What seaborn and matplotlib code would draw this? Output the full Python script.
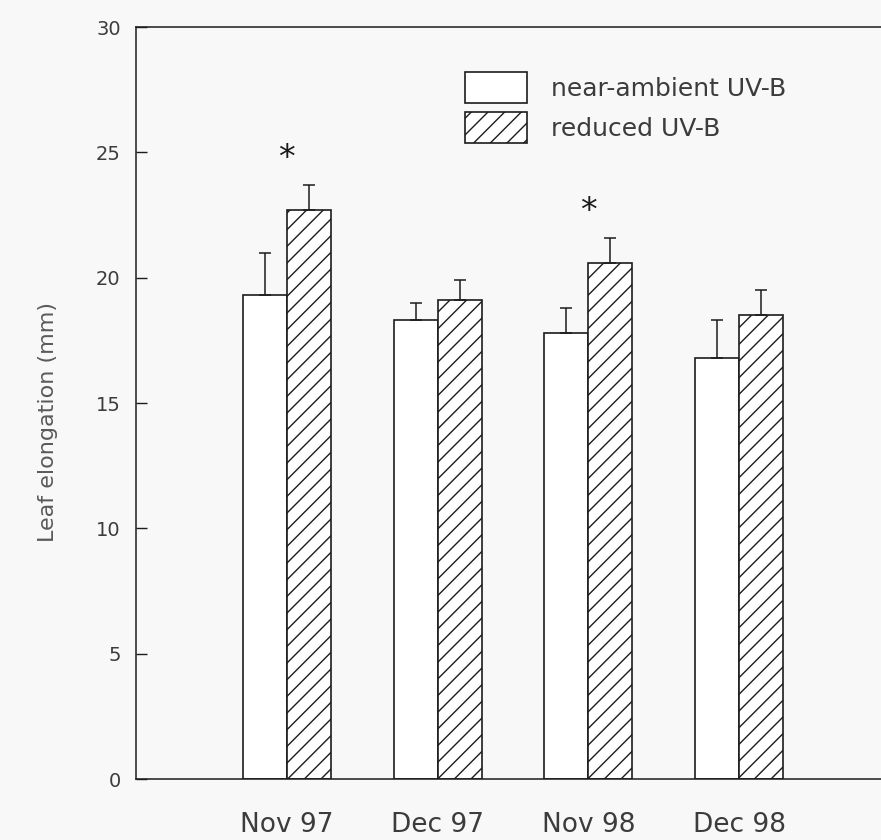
import matplotlib
matplotlib.use("Agg")
import matplotlib.pyplot as plt
import seaborn as sns
import pandas as pd

# Leaf elongation per sampling month under two UV-B treatments
months = ["Nov 97", "Dec 97", "Nov 98", "Dec 98"]
treatments = ["near-ambient UV-B", "reduced UV-B"]
near_ambient = [19.3, 18.3, 17.8, 16.8]
near_ambient_se = [1.7, 0.7, 1.0, 1.5]
reduced = [22.7, 19.1, 20.6, 18.5]
reduced_se = [1.0, 0.8, 1.0, 1.0]
# months with a significant treatment difference, and where the mark sits
signif_months = ["Nov 97", "Nov 98"]
signif_y = [24.75, 22.65]
y_ticks = [0, 5, 10, 15, 20, 25, 30]

df = pd.DataFrame({
    "month": months * 2,
    "treatment": [treatments[0]] * 4 + [treatments[1]] * 4,
    "value": near_ambient + reduced,
    "se": near_ambient_se + reduced_se,
})

sns.set_theme(style="white")
line_col = "#1c1c1c"
text_col = "#3c3c3c"
plt.rcParams["font.family"] = ["DejaVu Sans"]
plt.rcParams["hatch.color"] = line_col
plt.rcParams["hatch.linewidth"] = 1.0

fig = plt.figure(figsize=(8.81, 8.40), dpi=100, facecolor="#f8f8f8")
ax = fig.add_axes([0.1544, 0.0726, 0.8456, 0.8952])
ax.set_facecolor("#f8f8f8")

sns.barplot(data=df, x="month", y="value", hue="treatment",
            order=months, hue_order=treatments,
            palette=["white", "white"], edgecolor=line_col, linewidth=1.2,
            width=0.584, errorbar=None, ax=ax)

for bar in ax.containers[1]:
    bar.set_hatch("//")

# one-sided standard-error bars on top of each bar
for cont, errs in zip(ax.containers, [near_ambient_se, reduced_se]):
    xs = [b.get_x() + b.get_width() / 2 for b in cont]
    hs = [b.get_height() for b in cont]
    ax.errorbar(xs, hs, yerr=[[0] * len(errs), errs], fmt="none",
                ecolor=line_col, elinewidth=1.1, capsize=4, capthick=1.1)

for m, yv in zip(signif_months, signif_y):
    ax.text(months.index(m), yv, "*", ha="center", va="center",
            fontsize=24, color=line_col)

ax.set_ylim(0, 30)
ax.set_xlim(-1.0, 3.94)
ax.set_yticks(y_ticks)
ax.set_yticklabels([str(t) for t in y_ticks])
ax.tick_params(axis="y", direction="in", length=8, width=1.0, color=line_col,
               left=True, pad=11, labelsize=14, labelcolor=text_col)
ax.tick_params(axis="x", length=0, pad=24, labelsize=19, labelcolor=text_col)

for side in ["left", "top", "bottom"]:
    ax.spines[side].set_visible(True)
    ax.spines[side].set_color(line_col)
    ax.spines[side].set_linewidth(1.1)
ax.spines["right"].set_visible(False)

ax.set_xlabel("")
ax.set_ylabel("Leaf elongation (mm)", fontsize=16, color="#5a5a5a")
ax.yaxis.set_label_coords(-0.105, 0.475)

handles = [ax.containers[0][0], ax.containers[1][0]]
leg = ax.legend(handles=handles, labels=treatments, loc="upper left",
                bbox_to_anchor=(0.442, 0.94), frameon=False, fontsize=18,
                handlelength=2.48, handleheight=1.53, labelspacing=0.36,
                handletextpad=0.96, borderpad=0, borderaxespad=0)
for t in leg.get_texts():
    t.set_color(text_col)

fig.savefig("out.png", dpi=100, facecolor=fig.get_facecolor())
